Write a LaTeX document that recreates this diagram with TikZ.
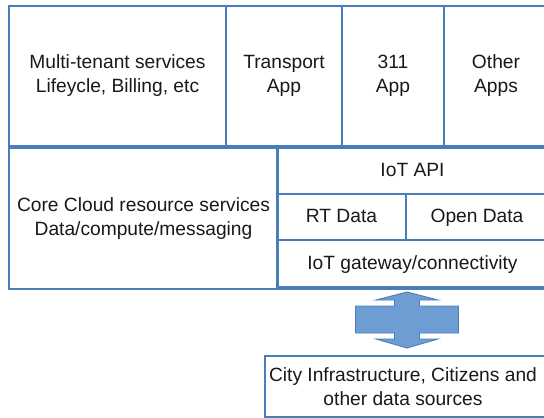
\documentclass[tikz,border=0pt]{standalone}
\usepackage{fontspec}
\setmainfont{Liberation Sans}
\definecolor{boxblue}{RGB}{74,126,187}
\definecolor{arrowfill}{RGB}{110,157,212}
\begin{document}
\begin{tikzpicture}[x=1pt,y=-1pt,
  cell/.style={draw=boxblue, line width=1.3pt, rectangle, inner sep=0pt, outer sep=0pt,
    anchor=north west, align=center,
    font=\fontsize{19.2pt}{24pt}\selectfont, text=black!90},
  oneline/.style={text height=15pt, text depth=4pt},
  bigarrow/.style={draw=boxblue, line width=0.9pt, fill=arrowfill, line join=miter}]
\useasboundingbox (0,0) rectangle (544,418);
\clip (0,0) rectangle (544,418);
\fill[white] (0,0) rectangle (544,418);
% top row
\node[cell, minimum width=217pt, minimum height=140pt] (multi) at (9,6) {Multi-tenant services\\Lifeycle, Billing, etc};
\node[cell, minimum width=116pt, minimum height=140pt] (transport) at (226,6) {Transport\\App};
\node[cell, minimum width=102pt, minimum height=140pt] (app311) at (342,6) {311\\App};
\node[cell, minimum width=104pt, minimum height=140pt] (other) at (444,6) {Other\\Apps};
% middle layer container
\node[cell, minimum width=540pt, minimum height=141pt] (middle) at (9,148) {};
\node[cell, minimum width=269pt, minimum height=141pt] (core) at (9,148) {Core Cloud resource services\\Data/compute/messaging};
\node[cell, oneline, minimum width=271pt, minimum height=46pt] (api) at (277,148) {IoT API};
\node[cell, oneline, minimum width=129pt, minimum height=46pt] (rt) at (277,194) {RT Data};
\node[cell, oneline, minimum width=142pt, minimum height=46pt] (open) at (406,194) {Open Data};
\node[cell, oneline, minimum width=271pt, minimum height=47pt] (gw) at (277,240) {IoT gateway/connectivity};
% bottom box
\node[cell, minimum width=283pt, minimum height=61pt] (city) at (265,356) {};
\node[align=center, font=\fontsize{19.2pt}{24pt}\selectfont, text=black!90] (citytext) at (403,386.5) {City Infrastructure, Citizens and\\other data sources};
% double arrow
\coordinate (ac) at (407,320);
\draw[bigarrow] ([shift={(0,-28)}]ac) -- ([shift={(31,-20)}]ac) -- ([shift={(12.5,-20)}]ac)
  -- ([shift={(12.5,-14)}]ac) -- ([shift={(51.5,-14)}]ac) -- ([shift={(51.5,13)}]ac)
  -- ([shift={(12.5,13)}]ac) -- ([shift={(12.5,19)}]ac) -- ([shift={(31,19)}]ac)
  -- ([shift={(0,28)}]ac) -- ([shift={(-31,19)}]ac) -- ([shift={(-12.5,19)}]ac)
  -- ([shift={(-12.5,13)}]ac) -- ([shift={(-51.5,13)}]ac) -- ([shift={(-51.5,-14)}]ac)
  -- ([shift={(-12.5,-14)}]ac) -- ([shift={(-12.5,-20)}]ac) -- ([shift={(-31,-20)}]ac) -- cycle;
\end{tikzpicture}
\end{document}
